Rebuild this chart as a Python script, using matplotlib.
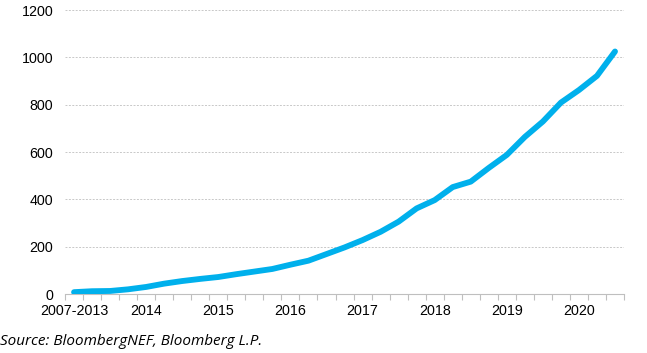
import numpy as np
import matplotlib.pyplot as plt

# quarterly series, first point is the 2007-2013 total
values = [8, 12, 13, 20, 30, 44, 55, 64, 72, 84, 95, 106, 124, 141, 169, 197,
          228, 263, 306, 362, 397, 452, 475, 533, 588, 664, 729, 809, 862, 922, 1025]
year_labels = ["2007-2013", "2014", "2015", "2016", "2017", "2018", "2019", "2020"]
y_ticks = [0, 200, 400, 600, 800, 1000, 1200]

plt.rcParams['font.family'] = ['Liberation Sans', 'DejaVu Sans']

fig = plt.figure(figsize=(6.47, 3.53), dpi=100)
ax = fig.add_axes([0.1005, 0.167, 0.864, 0.8045])

x = np.arange(len(values))
ax.plot(x, values, color="#00B0EC", lw=4.2, solid_capstyle="round", solid_joinstyle="round", zorder=3)

ax.set_xlim(-0.5, len(values) - 0.5)
ax.set_ylim(0, 1200)
ax.set_yticks(y_ticks)
ax.set_yticklabels([str(v) for v in y_ticks], fontsize=10.3)
ax.tick_params(axis="y", length=0, pad=8.5)
ax.yaxis.grid(True, color="#c8c8c8", linestyle=(0, (2, 1.5)), linewidth=0.7)
ax.set_axisbelow(True)

# tick marks between categories, labels every 4th category
ax.set_xticks(np.arange(-0.5, len(values)), minor=True)
ax.set_xticks(np.arange(0, len(values), 4))
ax.set_xticklabels(year_labels, fontsize=10.3)
ax.tick_params(axis="x", which="major", length=0, pad=7.5)
ax.tick_params(axis="x", which="minor", length=4, color="#bfbfbf", width=0.8)

for s in ["top", "right", "left"]:
    ax.spines[s].set_visible(False)
ax.spines["bottom"].set_color("#bfbfbf")
ax.spines["bottom"].set_linewidth(0.8)

fig.text(0.0, 0.024, "Source: BloombergNEF, Bloomberg L.P.", fontsize=11,
         style="italic", family="Open Sans", ha="left", va="baseline")

fig.savefig("out.png", dpi=100)
